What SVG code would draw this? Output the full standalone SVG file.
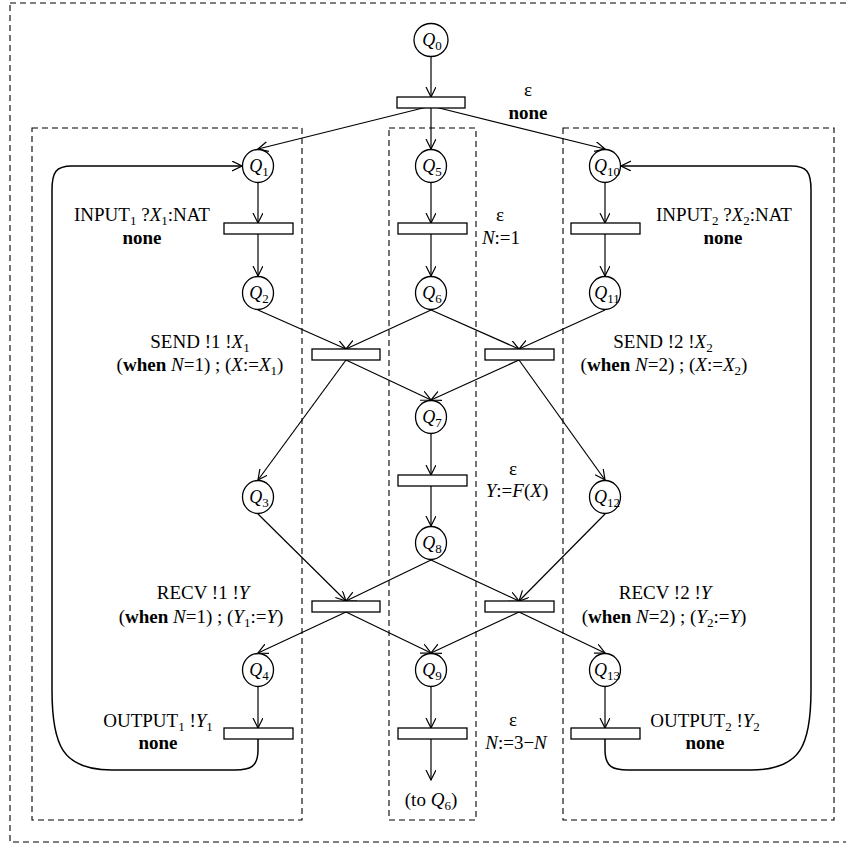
<svg xmlns="http://www.w3.org/2000/svg" width="846" height="846" viewBox="0 0 846 846">
<style>
.box{fill:none;stroke:#000;stroke-width:1.1;stroke-dasharray:6,4}
.st{fill:#fff;stroke:#000;stroke-width:1.3}
.tr{fill:#fff;stroke:#000;stroke-width:1.3}
.ar{fill:none;stroke:#000;stroke-width:1.2;marker-end:url(#ah)}
.lp{fill:none;stroke:#000;stroke-width:1.5;marker-end:url(#ah)}
text{font-family:"Liberation Serif","Times New Roman",serif;font-size:19px;fill:#000;text-anchor:middle}
.q{font-style:italic;font-size:18px}
.i{font-style:italic}
.b{font-weight:bold}
.s{font-size:13px;font-style:normal;font-weight:normal}
</style>
<defs>
<marker id="ah" markerWidth="11" markerHeight="11" refX="10" refY="5" orient="auto" markerUnits="userSpaceOnUse">
<path d="M0,0 L10,5 L0,10" fill="none" stroke="#000" stroke-width="1.2"/>
</marker>
</defs>
<rect class="box" x="10" y="3" width="850" height="839"/>
<rect class="box" x="32" y="128" width="270" height="692"/>
<rect class="box" x="389" y="128" width="87" height="692"/>
<rect class="box" x="563" y="128" width="271" height="692"/>
<g id="connectors">
<path class="ar" d="M431,57 L431,97"/>
<path class="ar" d="M431,106 L258,149"/>
<path class="ar" d="M431,106 L431,149"/>
<path class="ar" d="M431,106 L605,149"/>
<path class="ar" d="M258,182 L258,223"/>
<path class="ar" d="M431,182 L431,223"/>
<path class="ar" d="M605,182 L605,223"/>
<path class="ar" d="M258,223 L258,276"/>
<path class="ar" d="M431,223 L431,276"/>
<path class="ar" d="M605,223 L605,276"/>
<path class="ar" d="M258,310 L346,349"/>
<path class="ar" d="M431,310 L346,349"/>
<path class="ar" d="M431,310 L519,349"/>
<path class="ar" d="M605,310 L519,349"/>
<path class="ar" d="M346,360 L258,480"/>
<path class="ar" d="M346,360 L431,400"/>
<path class="ar" d="M519,360 L431,400"/>
<path class="ar" d="M519,360 L605,480"/>
<path class="ar" d="M431,434 L431,475"/>
<path class="ar" d="M431,475 L431,526"/>
<path class="ar" d="M258,514 L346,601"/>
<path class="ar" d="M431,560 L346,601"/>
<path class="ar" d="M431,560 L519,601"/>
<path class="ar" d="M605,514 L519,601"/>
<path class="ar" d="M346,612 L258,653"/>
<path class="ar" d="M346,612 L431,653"/>
<path class="ar" d="M519,612 L431,653"/>
<path class="ar" d="M519,612 L605,653"/>
<path class="ar" d="M258,687 L258,728"/>
<path class="ar" d="M431,687 L431,728"/>
<path class="ar" d="M605,687 L605,728"/>
<path class="ar" d="M431,728 L431,780"/>
<path class="lp" d="M258,739 L258,750 C258,767 250,770 235,770 L112,770 C62,770 52,745 52,690 L52,190 C52,172 56,166 72,166 L242,166"/>
<path class="lp" d="M605,739 L605,750 C605,767 613,770 628,770 L751,770 C801,770 811,745 811,690 L811,190 C811,172 807,166 791,166 L621,166"/>
</g>
<g id="q0"><ellipse class="st" cx="431" cy="40" rx="17" ry="16.5"/><text class="q" x="432" y="46">Q<tspan class="s" dy="4">0</tspan></text></g>
<g id="q1"><ellipse class="st" cx="258" cy="166" rx="15.5" ry="16.5"/><text class="q" x="259" y="172">Q<tspan class="s" dy="4">1</tspan></text></g>
<g id="q5"><ellipse class="st" cx="431" cy="166" rx="15.5" ry="16.5"/><text class="q" x="432" y="172">Q<tspan class="s" dy="4">5</tspan></text></g>
<g id="q10"><ellipse class="st" cx="605" cy="166" rx="15.5" ry="16.5"/><text class="q" x="607" y="172">Q<tspan class="s" dy="4">10</tspan></text></g>
<g id="q2"><ellipse class="st" cx="258" cy="293" rx="15.5" ry="16.5"/><text class="q" x="259" y="299">Q<tspan class="s" dy="4">2</tspan></text></g>
<g id="q6"><ellipse class="st" cx="431" cy="293" rx="15.5" ry="16.5"/><text class="q" x="432" y="299">Q<tspan class="s" dy="4">6</tspan></text></g>
<g id="q11"><ellipse class="st" cx="605" cy="293" rx="15.5" ry="16.5"/><text class="q" x="607" y="299">Q<tspan class="s" dy="4">11</tspan></text></g>
<g id="q7"><ellipse class="st" cx="431" cy="417" rx="15.5" ry="16.5"/><text class="q" x="432" y="423">Q<tspan class="s" dy="4">7</tspan></text></g>
<g id="q3"><ellipse class="st" cx="258" cy="497" rx="15.5" ry="16.5"/><text class="q" x="259" y="503">Q<tspan class="s" dy="4">3</tspan></text></g>
<g id="q12"><ellipse class="st" cx="605" cy="497" rx="15.5" ry="16.5"/><text class="q" x="607" y="503">Q<tspan class="s" dy="4">12</tspan></text></g>
<g id="q8"><ellipse class="st" cx="431" cy="543" rx="15.5" ry="16.5"/><text class="q" x="432" y="549">Q<tspan class="s" dy="4">8</tspan></text></g>
<g id="q4"><ellipse class="st" cx="258" cy="670" rx="15.5" ry="16.5"/><text class="q" x="259" y="676">Q<tspan class="s" dy="4">4</tspan></text></g>
<g id="q9"><ellipse class="st" cx="431" cy="670" rx="15.5" ry="16.5"/><text class="q" x="432" y="676">Q<tspan class="s" dy="4">9</tspan></text></g>
<g id="q13"><ellipse class="st" cx="605" cy="670" rx="15.5" ry="16.5"/><text class="q" x="607" y="676">Q<tspan class="s" dy="4">13</tspan></text></g>
<g id="t0"><rect class="tr" x="397" y="97" width="68" height="11"/><text x="528" y="96">ε</text><text class="b" x="528" y="119">none</text></g>
<g id="t1"><rect class="tr" x="224" y="223" width="69" height="11"/><text x="142" y="221">INPUT<tspan class="s" dy="4">1</tspan><tspan dy="-4"> ?</tspan><tspan class="i">X</tspan><tspan class="s" dy="4">1</tspan><tspan dy="-4">:NAT</tspan></text><text class="b" x="142" y="244">none</text></g>
<g id="t5"><rect class="tr" x="398" y="223" width="69" height="11"/><text x="500" y="221">ε</text><text x="501" y="244"><tspan class="i">N</tspan>:=1</text></g>
<g id="t10"><rect class="tr" x="571" y="223" width="69" height="11"/><text x="724" y="221">INPUT<tspan class="s" dy="4">2</tspan><tspan dy="-4"> ?</tspan><tspan class="i">X</tspan><tspan class="s" dy="4">2</tspan><tspan dy="-4">:NAT</tspan></text><text class="b" x="723" y="244">none</text></g>
<g id="t2"><rect class="tr" x="312" y="349" width="68" height="11"/><text x="200" y="348">SEND !1 !<tspan class="i">X</tspan><tspan class="s" dy="4">1</tspan></text><text x="200" y="371">(<tspan class="b">when</tspan> <tspan class="i">N</tspan>=1) ; (<tspan class="i">X</tspan>:=<tspan class="i">X</tspan><tspan class="s" dy="4">1</tspan><tspan dy="-4">)</tspan></text></g>
<g id="t11"><rect class="tr" x="485" y="349" width="69" height="11"/><text x="663" y="348">SEND !2 !<tspan class="i">X</tspan><tspan class="s" dy="4">2</tspan></text><text x="664" y="371">(<tspan class="b">when</tspan> <tspan class="i">N</tspan>=2) ; (<tspan class="i">X</tspan>:=<tspan class="i">X</tspan><tspan class="s" dy="4">2</tspan><tspan dy="-4">)</tspan></text></g>
<g id="t7"><rect class="tr" x="398" y="475" width="69" height="11"/><text x="513" y="475">ε</text><text x="517" y="497"><tspan class="i">Y</tspan>:=<tspan class="i">F</tspan>(<tspan class="i">X</tspan>)</text></g>
<g id="t3"><rect class="tr" x="312" y="601" width="68" height="11"/><text x="203" y="599">RECV !1 !<tspan class="i">Y</tspan></text><text x="201" y="623">(<tspan class="b">when</tspan> <tspan class="i">N</tspan>=1) ; (<tspan class="i">Y</tspan><tspan class="s" dy="4">1</tspan><tspan dy="-4">:=</tspan><tspan class="i">Y</tspan>)</text></g>
<g id="t12"><rect class="tr" x="485" y="601" width="69" height="11"/><text x="665" y="599">RECV !2 !<tspan class="i">Y</tspan></text><text x="664" y="623">(<tspan class="b">when</tspan> <tspan class="i">N</tspan>=2) ; (<tspan class="i">Y</tspan><tspan class="s" dy="4">2</tspan><tspan dy="-4">:=</tspan><tspan class="i">Y</tspan>)</text></g>
<g id="t4"><rect class="tr" x="224" y="728" width="69" height="11"/><text x="158" y="727">OUTPUT<tspan class="s" dy="4">1</tspan><tspan dy="-4"> !</tspan><tspan class="i">Y</tspan><tspan class="s" dy="4">1</tspan></text><text class="b" x="158" y="749">none</text></g>
<g id="t9"><rect class="tr" x="398" y="728" width="69" height="11"/><text x="513" y="726">ε</text><text x="516" y="749"><tspan class="i">N</tspan>:=3−<tspan class="i">N</tspan></text></g>
<g id="t13"><rect class="tr" x="571" y="728" width="69" height="11"/><text x="705" y="727">OUTPUT<tspan class="s" dy="4">2</tspan><tspan dy="-4"> !</tspan><tspan class="i">Y</tspan><tspan class="s" dy="4">2</tspan></text><text class="b" x="705" y="749">none</text></g>
<g id="to-q6"><text x="431" y="806">(to <tspan class="i">Q</tspan><tspan class="s" dy="4">6</tspan><tspan dy="-4">)</tspan></text></g>
</svg>
